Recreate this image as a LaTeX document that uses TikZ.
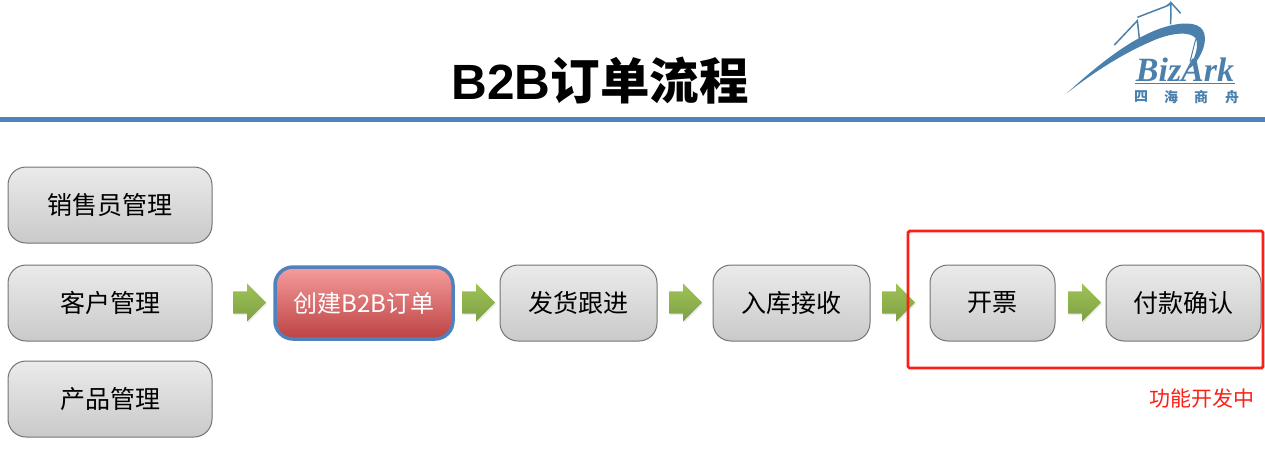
\documentclass[tikz,border=0pt]{standalone}
\usepackage{fontspec}
\setmainfont{Noto Sans CJK SC}
\newfontfamily\titlelat{Liberation Sans}
\newfontfamily\logolat{Liberation Serif}
\usetikzlibrary{shapes.arrows,shadows}
\definecolor{logoblue}{HTML}{4A80AB}
\definecolor{rulebar}{HTML}{4F81BD}
\definecolor{redtop}{HTML}{F69C9C}
\definecolor{redbot}{HTML}{BC4242}
\definecolor{arrtop}{HTML}{A0C455}
\definecolor{arrbot}{HTML}{7E9E45}
\definecolor{alertred}{HTML}{FA2016}
\newcommand\lbl[1]{\raisebox{-2.5pt}{#1}}
\tikzset{
  graybox/.style={draw=black!55,line width=1pt,rounded corners=18pt,inner sep=0pt,
    top color=black!8,bottom color=black!21,font=\fontsize{25}{25}\selectfont,text=black},
  redbox/.style={draw=rulebar,line width=3.5pt,rounded corners=18pt,inner sep=0pt,
    top color=redtop,bottom color=redbot,
    font=\fontsize{24}{24}\selectfont,text=white},
  flowarrow/.style={single arrow,draw=none,minimum height=33pt,inner xsep=0pt,inner ysep=11pt,
    single arrow head extend=8pt,single arrow tip angle=90,anchor=tail,
    top color=arrtop,bottom color=arrbot,
    drop shadow={opacity=.15,shadow xshift=1pt,shadow yshift=-1.5pt}},
  logostroke/.style={draw=logoblue,line width=1.5pt},
  logochar/.style={text=logoblue,inner sep=0pt,font=\fontsize{14}{14}\selectfont\bfseries},
}
\begin{document}
\begin{tikzpicture}[x=1pt,y=-1pt]
\useasboundingbox (0,0) rectangle (1265,475);
% title and rule
\node (title) at (600,81) {\fontsize{49.5}{49.5}\selectfont\bfseries{\titlelat B2B}订单流程};
\fill[rulebar] (0,117) rectangle (1265,122);
% left column
\node[graybox,minimum width=204pt,minimum height=76pt] (sales) at (110,205) {\lbl{销售员管理}};
\node[graybox,minimum width=204pt,minimum height=76pt] (cust) at (110,303) {\lbl{客户管理}};
\node[graybox,minimum width=204pt,minimum height=76pt] (prod) at (110,399) {\lbl{产品管理}};
% flow
\node[redbox,minimum width=178pt,minimum height=72pt] (create) at (364,303) {\lbl{创建B2B订单}};
\node[graybox,minimum width=157pt,minimum height=76pt] (ship) at (578.5,303) {\lbl{发货跟进}};
\node[graybox,minimum width=157pt,minimum height=76pt] (recv) at (791.5,303) {\lbl{入库接收}};
\node[graybox,minimum width=125pt,minimum height=76pt] (inv) at (992.5,303) {\lbl{开票}};
\node[graybox,minimum width=155pt,minimum height=76pt] (pay) at (1183.5,303) {\lbl{付款确认}};
\node[flowarrow] (a1) at (233,302.5) {};
\node[flowarrow] (a2) at (462,302.5) {};
\node[flowarrow] (a3) at (669,302.5) {};
\node[flowarrow] (a4) at (882,302.5) {};
\node[flowarrow] (a5) at (1068,302.5) {};
% highlight
\draw[draw=alertred,line width=2.8pt,rounded corners=1.5pt] (908,231) rectangle (1263,368);
\node[text=alertred,font=\fontsize{21}{21}\selectfont,inner sep=0pt] (dev) at (1202,399) {功能开发中};
% logo
\begin{scope}[shift={(1050,0)},x=0.3333pt,y=-0.3333pt]
  \fill[logoblue] (50,280) .. controls (170,170) and (290,80) .. (395,71)
     .. controls (445,67) and (470,85) .. (464,128)
     .. controls (458,160) and (440,190) .. (415,208)
     .. controls (438,170) and (447,135) .. (437,115)
     .. controls (420,92) and (360,98) .. (300,126)
     .. controls (210,165) and (120,225) .. (50,280) -- cycle;
  \draw[logostroke] (193,135) -- (262,62) -- (268,115);
  \draw[logostroke] (262,52) -- (358,15) (362,73) -- (363,8) -- (392,40) (363,8) -- (350,18);
  \draw[logoblue,line width=1pt] (437,118) -- (420,185);
  \draw[logoblue,line width=1pt] (255,250) -- (556,250);
\end{scope}
\node[text=logoblue,inner sep=0pt,font=\fontsize{34}{34}\selectfont] (brand) at (1185,70) {\logolat\bfseries\itshape BizArk};
\node[logochar] (c1) at (1141,97) {四};
\node[logochar] (c2) at (1171,97) {海};
\node[logochar] (c3) at (1201,97) {商};
\node[logochar] (c4) at (1232,97) {舟};
\end{tikzpicture}
\end{document}
